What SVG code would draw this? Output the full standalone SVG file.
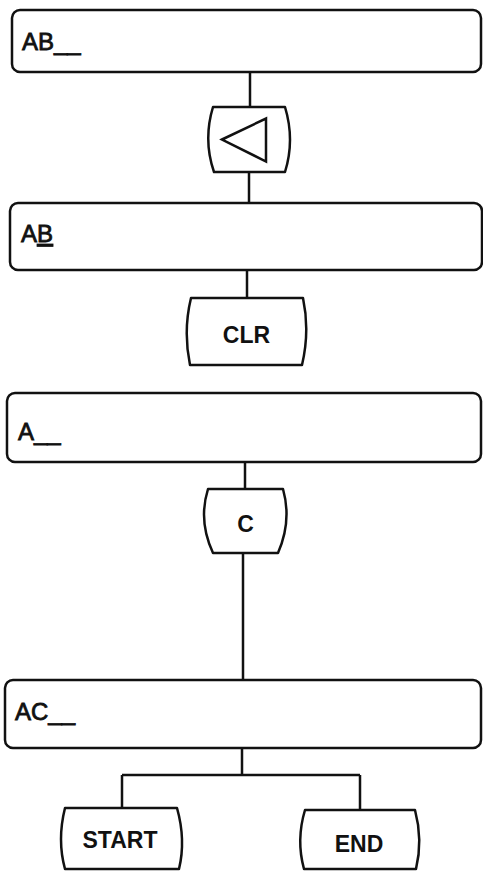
<svg xmlns="http://www.w3.org/2000/svg" width="483" height="871" viewBox="0 0 483 871">
<style>
.box{fill:#fff;stroke:#111;stroke-width:2.5}
.key{fill:#fff;stroke:#111;stroke-width:2.5;stroke-linejoin:round}
.line{fill:none;stroke:#111;stroke-width:2.5}
.bt{font-family:"Liberation Sans",Arial,sans-serif;font-size:24px;fill:#111;stroke:#111;stroke-width:0.8}
.kt{font-family:"Liberation Sans",Arial,sans-serif;font-size:23px;font-weight:bold;fill:#111;text-anchor:middle}
</style>
<rect width="483" height="871" fill="#fff"/>
<g id="connectors">
<path class="line" d="M250,72 V107"/>
<path class="line" d="M249,172 V203"/>
<path class="line" d="M247,270 V298"/>
<path class="line" d="M245,462 V489"/>
<path class="line" d="M243,553 V680"/>
<path class="line" d="M242,748 V775 M122,775 H360 M122,775 V808 M360,775 V810"/>
</g>
<g id="display1">
<rect class="box" x="12" y="10" width="469" height="62" rx="8"/>
<text class="bt" x="22" y="50">AB__</text>
</g>
<g id="key-back">
<path class="key" d="M213,107 L285,107 Q295,140 285,172 L214,172 Q203,140 213,107 Z"/>
<path class="line" d="M222,139.5 L266,118.5 L266,161.5 Z" stroke-linejoin="miter"/>
</g>
<g id="display2">
<rect class="box" x="10" y="203" width="472" height="67" rx="8"/>
<text class="bt" x="21" y="242">A<tspan text-decoration="underline">B</tspan></text>
</g>
<g id="key-clr">
<path class="key" d="M191,298 L303,298 Q310,331 302,365 L190,365 Q183,331 191,298 Z"/>
<text class="kt" x="246.5" y="343">CLR</text>
</g>
<g id="display3">
<rect class="box" x="7" y="393" width="474" height="69" rx="8"/>
<text class="bt" x="18" y="440">A__</text>
</g>
<g id="key-c">
<path class="key" d="M208,489 L283,489 Q292,521 278,553 L213,553 Q198,521 208,489 Z"/>
<text class="kt" x="245.5" y="532">C</text>
</g>
<g id="display4">
<rect class="box" x="5" y="680" width="476" height="68" rx="8"/>
<text class="bt" x="15" y="720">AC__</text>
</g>
<g id="key-start">
<path class="key" d="M65,808 L177,808 Q186,840 179,869 L65,869 Q57,840 65,808 Z"/>
<text class="kt" x="120" y="848">START</text>
</g>
<g id="key-end">
<path class="key" d="M305,810 L415,810 Q423,840 416,869 L304,869 Q296,840 305,810 Z"/>
<text class="kt" x="359" y="852">END</text>
</g>
</svg>
